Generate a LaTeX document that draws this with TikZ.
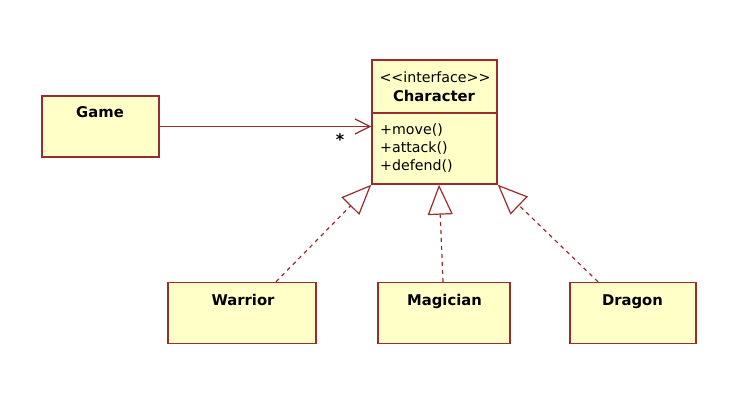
\documentclass[tikz,border=0pt]{standalone}
\usepackage{fontspec}
\setmainfont{DejaVu Sans}[Ligatures=TeXOff]
\usetikzlibrary{arrows.meta}

\definecolor{umlline}{RGB}{153,45,45}
\definecolor{umlfill}{RGB}{255,255,200}

\begin{document}
\begin{tikzpicture}[x=1pt, y=-1pt,
    classbox/.style={draw=umlline, fill=umlfill, line width=1.4pt, inner sep=0pt},
    classname/.style={anchor=base, font=\fontsize{14.8}{16}\selectfont\bfseries},
    member/.style={anchor=base west, font=\fontsize{14.2}{16}\selectfont, inner sep=0pt},
    assoc/.style={draw=umlline, line width=1.2pt, -{Straight Barb[length=15pt, width=15pt, line width=1.2pt]}},
    realize/.style={draw=umlline, line width=1.2pt, dash pattern=on 4pt off 4pt,
        -{Triangle[length=30pt, width=25pt, fill=white, line width=1.2pt]}}]
    \useasboundingbox (0,0) rectangle (741,406);

    % classes
    \node[classbox, minimum width=117pt, minimum height=61pt] (game) at (100.5,126.5) {};
    \node[classname] (gamename) at (100,117.5) {Game};

    \node[classbox, minimum width=125pt, minimum height=124pt] (char) at (434.5,122) {};
    \draw[umlline, line width=1.4pt] (char.west |- 0,113) coordinate (divl) -- (char.east |- 0,113) coordinate (divr);
    \node[anchor=base, font=\fontsize{14.2}{16}\selectfont] (stereo) at (435,83) {<<interface>>};
    \node[classname] (charname) at (434,101.5) {Character};
    \node[member] (move) at (380,135) {+move()};
    \node[member] (attack) at (380,153) {+attack()};
    \node[member] (defend) at (380,171) {+defend()};

    \node[classbox, minimum width=148pt, minimum height=61pt] (warrior) at (242,313) {};
    \node[classname] (warriorname) at (243,305) {Warrior};
    \node[classbox, minimum width=132pt, minimum height=61pt] (magician) at (444,313) {};
    \node[classname] (magicianname) at (444.5,305) {Magician};
    \node[classbox, minimum width=126pt, minimum height=61pt] (dragon) at (633,313) {};
    \node[classname] (dragonname) at (632.5,305) {Dragon};

    % association
    \draw[assoc] (game.east) -- (game.east -| char.west);
    \node[font=\fontsize{16}{16}\selectfont\bfseries, inner sep=0pt] (mult) at (340,140) {*};

    % realizations
    \draw[realize] ([xshift=34pt]warrior.north) -- (char.south west);
    \draw[realize] ([xshift=-1pt]magician.north) -- ([xshift=4.5pt]char.south);
    \draw[realize] ([xshift=-35pt]dragon.north) -- (char.south east);

\end{tikzpicture}
\end{document}
